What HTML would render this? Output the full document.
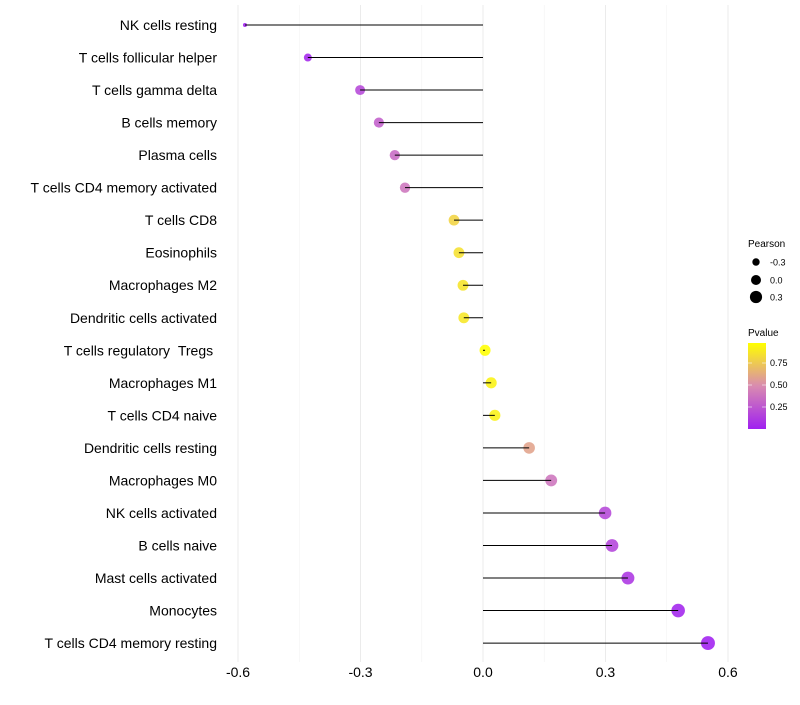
<!DOCTYPE html>
<html><head><meta charset="utf-8"><style>
body{margin:0;background:#fff;font-family:"Liberation Sans",sans-serif}
</style></head><body>
<svg id="chart" width="800" height="700" xmlns="http://www.w3.org/2000/svg">
<defs><linearGradient id="pg" x1="0" y1="1" x2="0" y2="0">
<stop offset="0" stop-color="#A020F0"/><stop offset="0.5" stop-color="#D98BB0"/><stop offset="1" stop-color="#FFFF00"/></linearGradient></defs>
<g id="grid"></g><g id="points"></g><g id="marks"></g><g id="labels"></g>
<g font-size="9" fill="#000">
<text x="748" y="247" font-size="10">Pearson</text>
<circle cx="756" cy="262" r="3.7"/><text x="770" y="265.5">-0.3</text>
<circle cx="756" cy="280" r="5"/><text x="770" y="283.5">0.0</text>
<circle cx="756" cy="297" r="6.1"/><text x="770" y="300.5">0.3</text>
<text x="748" y="336" font-size="10">Pvalue</text>
<rect x="748" y="343" width="18" height="86" fill="url(#pg)"/>
<g stroke="#fff" stroke-width="0.8" opacity="0.7"><line x1="748" x2="752" y1="363" y2="363"/><line x1="762" x2="766" y1="363" y2="363"/><line x1="748" x2="752" y1="385" y2="385"/><line x1="762" x2="766" y1="385" y2="385"/><line x1="748" x2="752" y1="407" y2="407"/><line x1="762" x2="766" y1="407" y2="407"/></g>
<text x="770" y="366">0.75</text><text x="770" y="388">0.50</text><text x="770" y="410">0.25</text>
</g>
</svg>
<script>
const categories=["NK cells resting","T cells follicular helper","T cells gamma delta","B cells memory","Plasma cells","T cells CD4 memory activated","T cells CD8","Eosinophils","Macrophages M2","Dendritic cells activated","T cells regulatory\u00a0\u00a0Tregs\u00a0","Macrophages M1","T cells CD4 naive","Dendritic cells resting","Macrophages M0","NK cells activated","B cells naive","Mast cells activated","Monocytes","T cells CD4 memory resting"];
const pearson=[-0.583,-0.429,-0.301,-0.255,-0.216,-0.191,-0.071,-0.059,-0.049,-0.047,0.005,0.020,0.029,0.113,0.167,0.299,0.316,0.355,0.478,0.551];
const pvalues=[0.02,0.05,0.2,0.3,0.35,0.4,0.8,0.85,0.87,0.88,0.98,0.93,0.92,0.6,0.4,0.2,0.18,0.12,0.04,0.01];
const xTicks=[-0.6,-0.3,0,0.3,0.6];
const xTickLabels=["-0.6","-0.3","0.0","0.3","0.6"];
const sizeDomain=[-0.6,-0.43,-0.3,0,0.3,0.6];
const sizeRange=[1.8,4,5,5.5,6.3,7.1];
const ns="http://www.w3.org/2000/svg";
const X=v=>483+v*408.3;
const Y=i=>25+i*32.53;
function R(v){
 if(v<=sizeDomain[0])return sizeRange[0];
 for(let k=1;k<sizeDomain.length;k++){if(v<=sizeDomain[k]){const s=(v-sizeDomain[k-1])/(sizeDomain[k]-sizeDomain[k-1]);return sizeRange[k-1]+s*(sizeRange[k]-sizeRange[k-1]);}}
 return sizeRange[sizeRange.length-1];
}
function col(p){const t=Math.max(0,Math.min(1,(p-0.02)/0.96));
 const a=[160,32,240],m=[217,139,176],b=[255,255,0];let c;
 if(t<0.5){const s=t/0.5;c=a.map((x,k)=>x+(m[k]-x)*s);}else{const s=(t-0.5)/0.5;c=m.map((x,k)=>x+(b[k]-x)*s);}
 return `rgb(${c.map(Math.round).join(',')})`;}
function mk(tag,at,parent){const e=document.createElementNS(ns,tag);for(const k in at)e.setAttribute(k,at[k]);parent.appendChild(e);return e;}
const grid=document.getElementById('grid'),points=document.getElementById('points'),marks=document.getElementById('marks'),labels=document.getElementById('labels');
for(let i=0;i<xTicks.length;i++){
 const g=mk('line',{x1:X(xTicks[i]),x2:X(xTicks[i]),y1:5,y2:662,stroke:'#ebebeb','stroke-width':1},grid);
 
 
 if(i<xTicks.length-1){const mv=(xTicks[i]+xTicks[i+1])/2;
  const m=mk('line',{x1:X(mv),x2:X(mv),y1:5,y2:662,stroke:'#f3f3f3','stroke-width':0.6},grid);
  
  }
 const t=mk('text',{x:X(xTicks[i]),y:677,'text-anchor':'middle','font-size':14,fill:'#000'},labels);
 t.textContent=xTickLabels[i];
 
 
}
categories.forEach((c,i)=>{
 const y=Y(i);
 const p=mk('circle',{cx:X(pearson[i]),cy:y,r:R(pearson[i]),fill:col(pvalues[i]),'fill-opacity':0.88},points);
 
 
 const l=mk('line',{x1:X(0),x2:X(pearson[i]),y1:y,y2:y,stroke:'#000','stroke-width':1},marks);
 
 
 const t=mk('text',{x:217,y:y+5,'text-anchor':'end','font-size':14,fill:'#000'},labels);
 t.textContent=c;
 
 
});
</script>
</body></html>
